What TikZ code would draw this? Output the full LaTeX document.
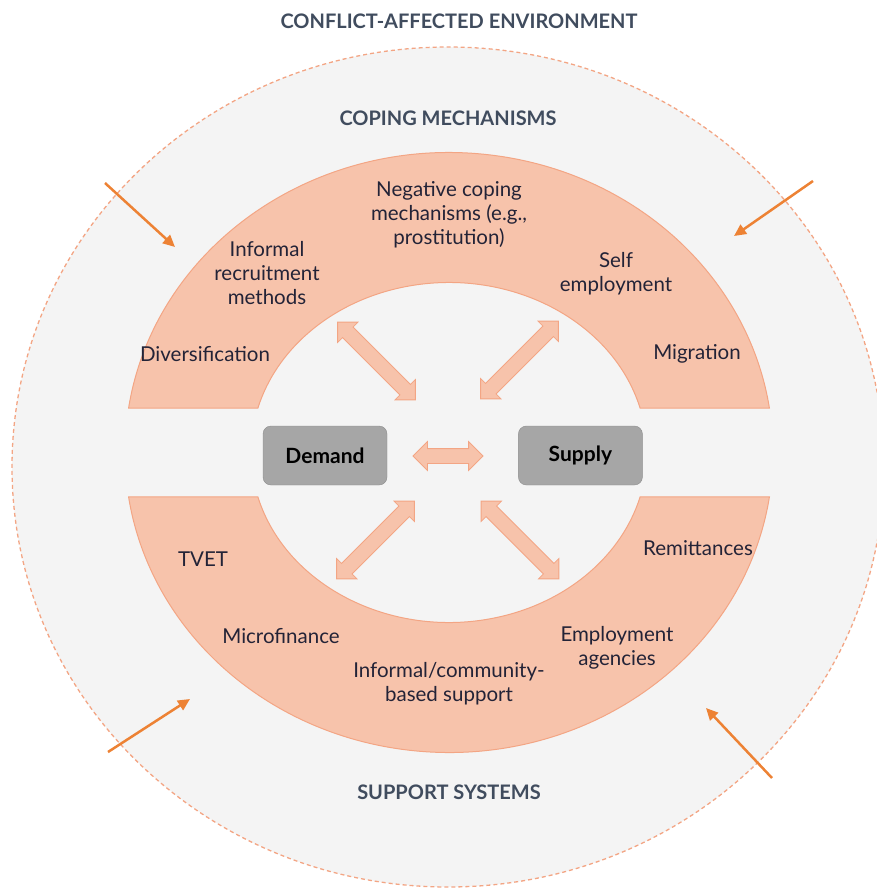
\documentclass[tikz,border=0pt]{standalone}
\usepackage{fontspec}
\setmainfont{Lato}
\usepackage{tikz}
\usetikzlibrary{positioning, calc, shapes.arrows, arrows.meta}
\definecolor{mybandfill}{RGB}{247, 195, 171}
\definecolor{mybandline}{RGB}{243, 165, 132}
\definecolor{myorange}{RGB}{237, 130, 52}
\definecolor{mybackground}{RGB}{244, 244, 244}
\definecolor{myslate}{RGB}{64, 76, 94}
\definecolor{mytext}{RGB}{35, 35, 55}
\definecolor{mybox}{RGB}{166, 166, 166}

\begin{document}
\begin{tikzpicture}[x = 1pt, y = -1pt,
  band/.style = {fill = mybandfill, draw = mybandline, line width = 1pt},
  box/.style = {draw = mybox!85!black, fill = mybox, rounded corners = 8pt, minimum width = 124pt, minimum height = 59pt, font = \bfseries\fontsize{21}{24}\selectfont, text = black},
  label/.style = {align = center, text = mytext, font = \fontsize{20.5}{24}\selectfont},
  title/.style = {text = myslate, font = \bfseries\fontsize{20}{22}\selectfont},
  swap/.style = {double arrow, fill = mybandfill, draw = mybandline, line width = 0.8pt, inner sep = 7pt, double arrow head extend = 7pt, minimum height = 110pt},
  push/.style = {-{Triangle[length = 12pt, width = 11pt]}, myorange, line width = 2.5pt}]

  \useasboundingbox (0, 0) rectangle (876, 889);
  \coordinate (c) at (449, 452.5);

  % environment
  \draw [mybandline, fill = mybackground, line width = 1.3pt, dash pattern = on 4pt off 3pt] (448, 467) ellipse [x radius = 436, y radius = 420];

  % bands
  \draw [band] ($(c) + (188.53:324 and 300)$) arc [start angle = 188.53, end angle = 351.47, x radius = 324, y radius = 300]
    -- ($(c) + (344.83:198 and 170)$) arc [start angle = 344.83, end angle = 195.17, x radius = 198, y radius = 170] -- cycle;
  \draw [band] ($(c) + (8.53:324 and 300)$) arc [start angle = 8.53, end angle = 171.47, x radius = 324, y radius = 300]
    -- ($(c) + (164.83:198 and 170)$) arc [start angle = 164.83, end angle = 15.17, x radius = 198, y radius = 170] -- cycle;

  % titles
  \node [title] (env) at (459, 21) {CONFLICT-AFFECTED ENVIRONMENT};
  \node [title] (coping) at (448, 118) {COPING MECHANISMS};
  \node [title] (support) at (449, 792) {SUPPORT SYSTEMS};

  % market
  \node [box] (demand) at (325, 455.5) {Demand};
  \node [box, right = 131pt of demand] (supply) {Supply};

  % labels
  \node [label] (negative) at (449, 215) {Negative coping\\mechanisms (e.g.,\\prostitution)};
  \node [label] (recruit) at (267, 273) {Informal\\recruitment\\methods};
  \node [label] (self) at (616, 274) {Self\\employment};
  \node [label] (divers) at (205, 354) {Diversification};
  \node [label] (migration) at (697, 354) {Migration};
  \node [label] (tvet) at (203, 559) {TVET};
  \node [label] (remit) at (698, 548) {Remittances};
  \node [label] (micro) at (281, 636) {Microfinance};
  \node [label] (agencies) at (617, 648) {Employment\\agencies};
  \node [label] (informal) at (449, 684) {Informal/community-\\based support};

  % links
  \node [swap, minimum height = 70pt] (ds) at (448, 456) {};
  \node [swap, rotate = -45] (dc) at (376.5, 361) {};
  \node [swap, rotate = 45] (sc) at (519.5, 360) {};
  \node [swap, rotate = 45] (dsup) at (375.5, 540) {};
  \node [swap, rotate = -45] (ssup) at (520, 540) {};

  % pressures
  \coordinate (nw-from) at (105, 183);
  \coordinate (nw-to) at (175, 247);
  \coordinate (ne-from) at (813, 181);
  \coordinate (ne-to) at (734, 236);
  \coordinate (sw-from) at (108, 752);
  \coordinate (sw-to) at (190, 699);
  \coordinate (se-from) at (772, 778);
  \coordinate (se-to) at (706, 708);
  \draw [push] (nw-from) -- (nw-to);
  \draw [push] (ne-from) -- (ne-to);
  \draw [push] (sw-from) -- (sw-to);
  \draw [push] (se-from) -- (se-to);
\end{tikzpicture}
\end{document}
